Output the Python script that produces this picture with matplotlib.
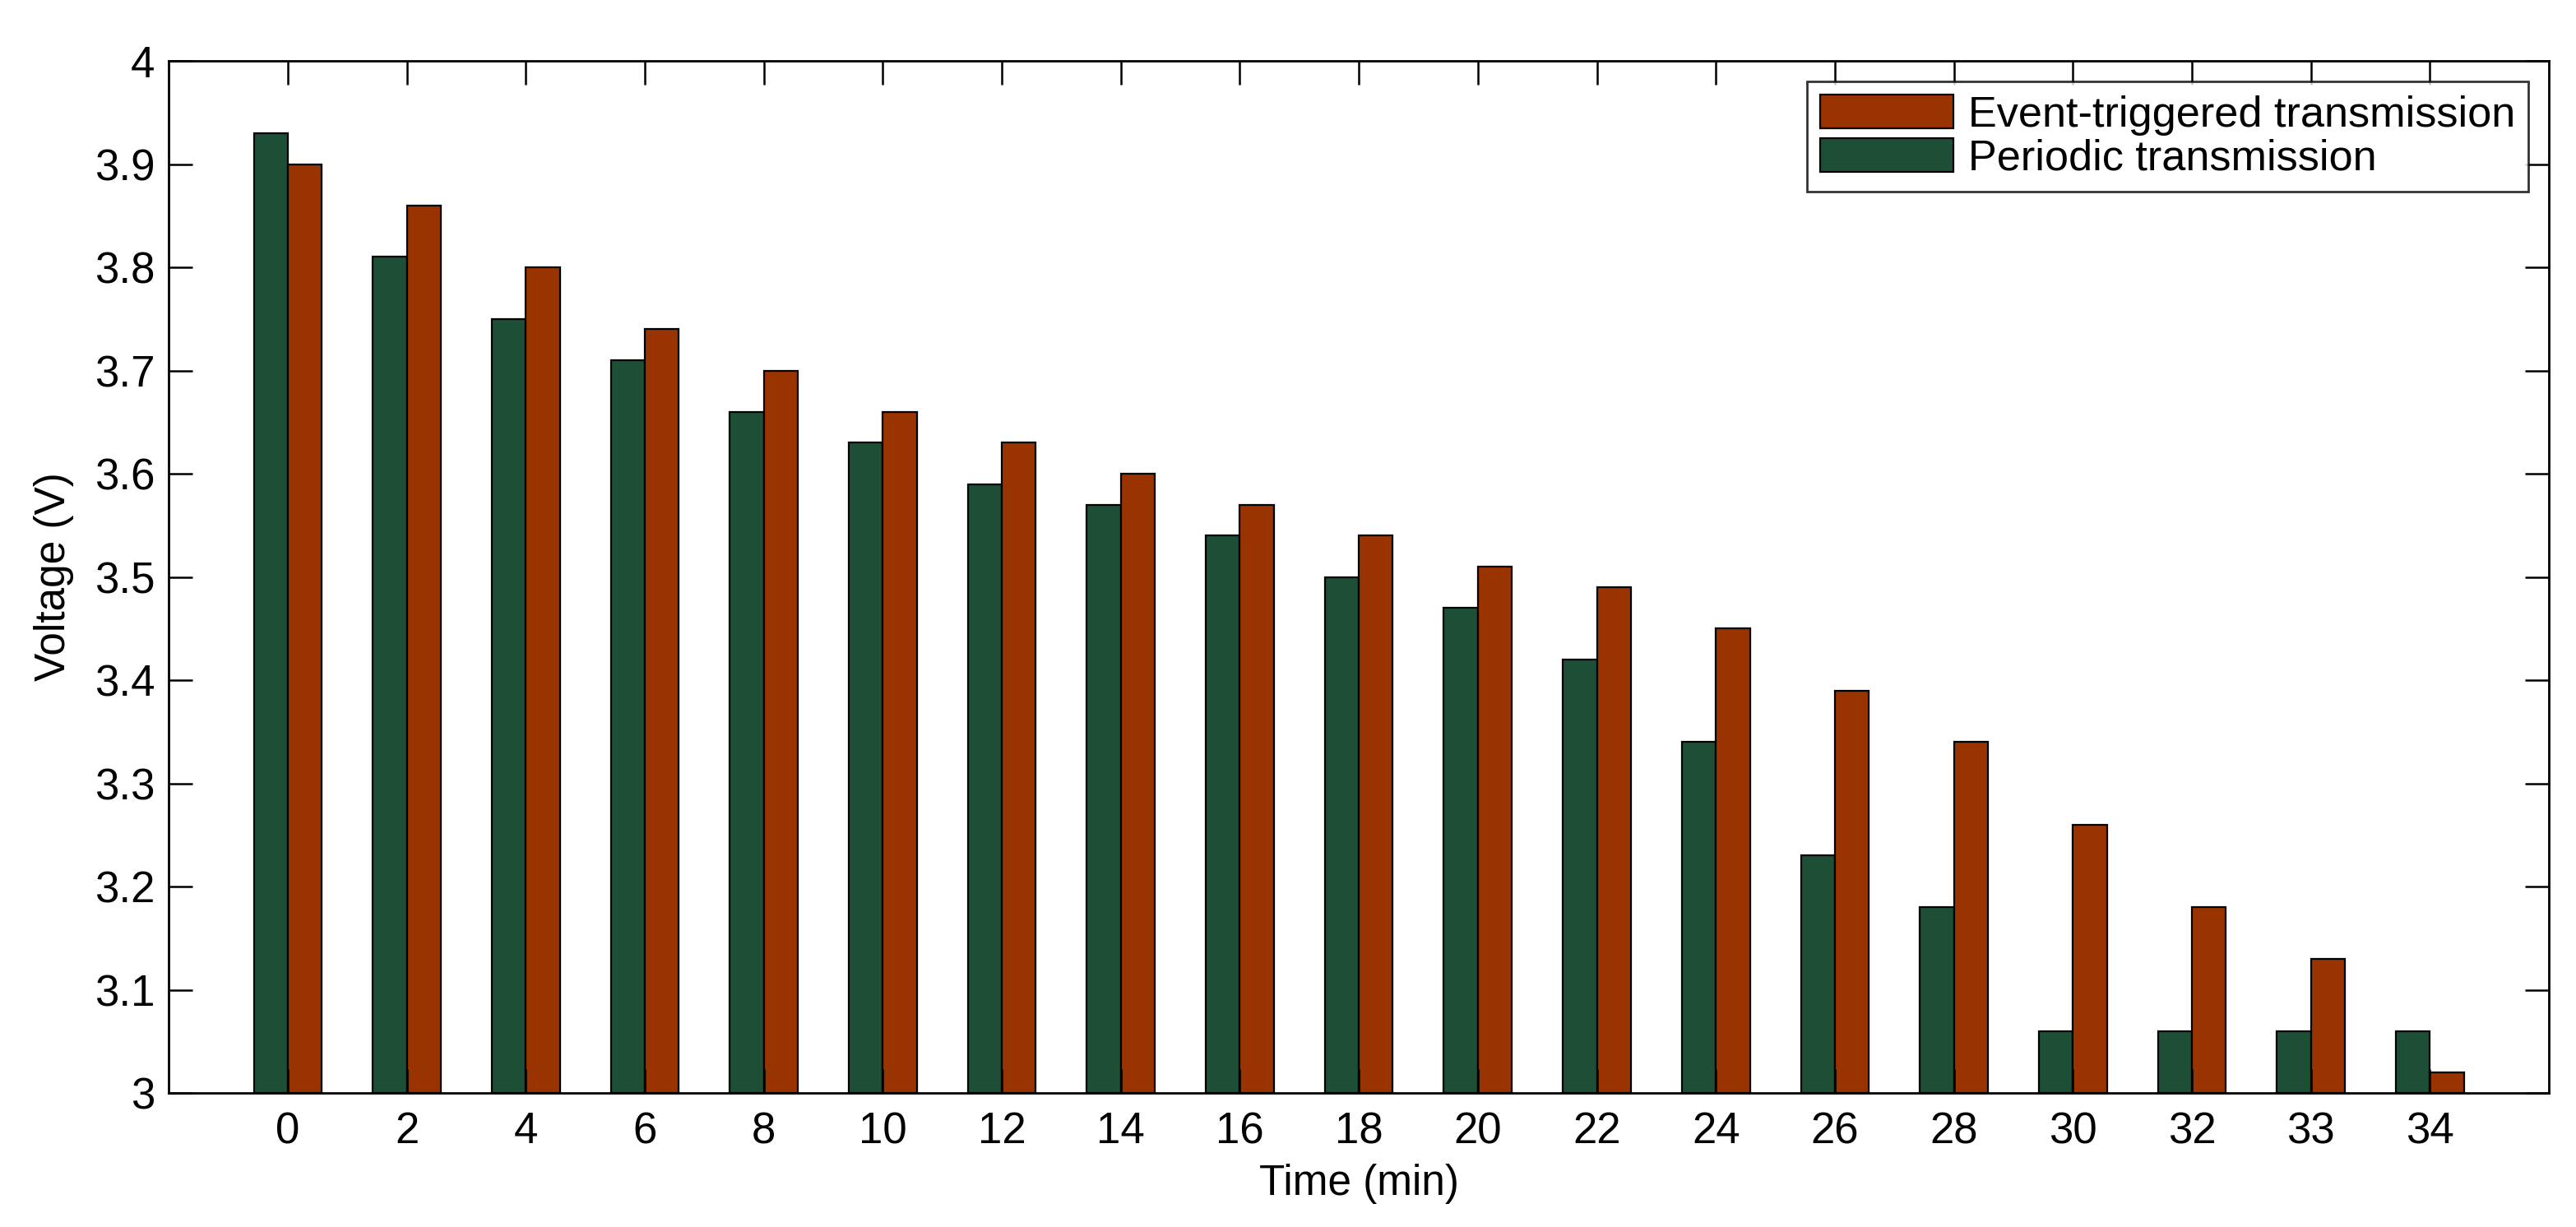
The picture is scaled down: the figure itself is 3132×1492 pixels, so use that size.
import matplotlib

matplotlib.use("Agg")
import matplotlib.pyplot as plt
import numpy as np

plt.rcParams["font.family"] = ["Liberation Sans", "DejaVu Sans"]

# values
time_labels = ["0", "2", "4", "6", "8", "10", "12", "14", "16", "18",
               "20", "22", "24", "26", "28", "30", "32", "33", "34"]
periodic = [3.93, 3.81, 3.75, 3.71, 3.66, 3.63, 3.59, 3.57, 3.54, 3.50,
            3.47, 3.42, 3.34, 3.23, 3.18, 3.06, 3.06, 3.06, 3.06]
event_triggered = [3.90, 3.86, 3.80, 3.74, 3.70, 3.66, 3.63, 3.60, 3.57, 3.54,
                   3.51, 3.49, 3.45, 3.39, 3.34, 3.26, 3.18, 3.13, 3.02]
y_ticks = [3.0, 3.1, 3.2, 3.3, 3.4, 3.5, 3.6, 3.7, 3.8, 3.9, 4.0]

GREEN = "#1c4f36"
RED = "#993300"

fig = plt.figure(figsize=(15.66, 7.46), dpi=200)
ax = fig.add_axes([0.0655, 0.1092, 0.924, 0.8412])

x = np.arange(1, len(time_labels) + 1)
width = 2 / 3.5 / 2  # MATLAB-style grouped bar width
base = 3.0
ax.bar(x - width / 2, np.array(periodic) - base, width, bottom=base,
       color=GREEN, edgecolor="black", linewidth=0.8, label="Periodic transmission")
ax.bar(x + width / 2, np.array(event_triggered) - base, width, bottom=base,
       color=RED, edgecolor="black", linewidth=0.8, label="Event-triggered transmission")

ax.set_xlim(0, len(time_labels) + 1)
ax.set_ylim(3, 4)
ax.set_xticks(x)
ax.set_xticklabels(time_labels)
ax.set_yticks(y_ticks)
ax.set_yticklabels([f"{v:g}" for v in y_ticks])

ax.tick_params(direction="in", length=10.5, width=0.9, top=True, right=True,
               labelsize=19)
ax.tick_params(axis="x", pad=8)
ax.tick_params(axis="y", pad=6)
for spine in ax.spines.values():
    spine.set_linewidth(1.0)

ax.set_xlabel("Time (min)", fontsize=18.5, labelpad=5)
ax.set_ylabel("Voltage (V)", fontsize=18.5, labelpad=9)

handles, labels = ax.get_legend_handles_labels()
leg = ax.legend(handles[::-1], labels[::-1], loc="upper right",
                bbox_to_anchor=(0.9914, 0.980), borderaxespad=0, fontsize=18.8,
                frameon=True, fancybox=False, edgecolor="black",
                handlelength=3.1, handleheight=0.85, handletextpad=0.36,
                labelspacing=0.06, borderpad=0.3)
leg.get_frame().set_linewidth(1.0)

fig.savefig("out.png", dpi=200)
